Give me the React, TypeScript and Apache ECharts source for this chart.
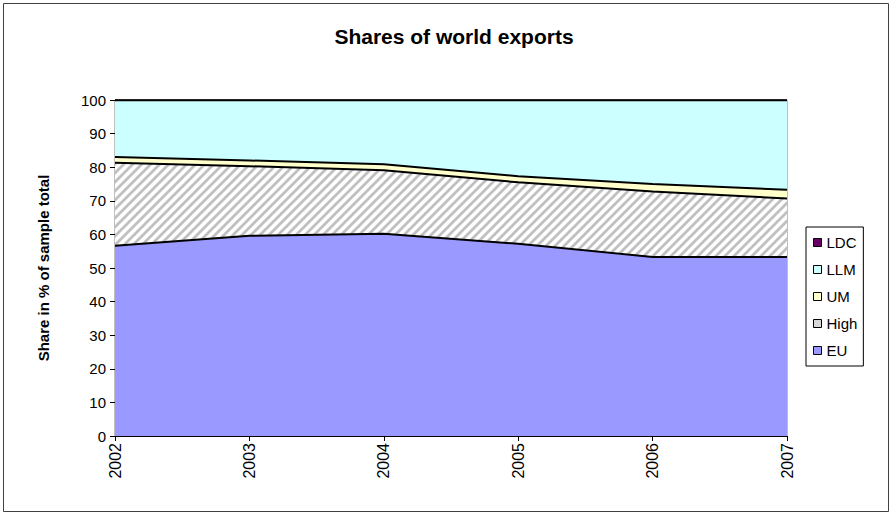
import React, { useEffect, useRef } from "react";
import * as echarts from "echarts";

const years = ["2002", "2003", "2004", "2005", "2006", "2007"];
const euValues = [56.6, 59.6, 60.2, 57.2, 53.3, 53.3];
const highValues = [24.7, 20.7, 18.9, 18.3, 19.5, 17.4];
const umValues = [1.7, 1.7, 1.8, 1.8, 2.2, 2.6];
const llmValues = [16.9, 17.9, 19.0, 22.6, 24.9, 26.6];
const ldcValues = [0.1, 0.1, 0.1, 0.1, 0.1, 0.1];
const legendOrder = ["LDC", "LLM", "UM", "High", "EU"];

function makeHatch(): HTMLCanvasElement {
  const c = document.createElement("canvas");
  c.width = 9;
  c.height = 9;
  const ctx = c.getContext("2d")!;
  ctx.fillStyle = "#ffffff";
  ctx.fillRect(0, 0, 9, 9);
  ctx.strokeStyle = "#c0c0c0";
  ctx.lineWidth = 2.8;
  ctx.beginPath();
  ctx.moveTo(-2, 11);
  ctx.lineTo(11, -2);
  ctx.moveTo(-2, 2);
  ctx.lineTo(2, -2);
  ctx.moveTo(7, 11);
  ctx.lineTo(11, 7);
  ctx.stroke();
  return c;
}

export default function App() {
  const ref = useRef<HTMLDivElement>(null);
  useEffect(() => {
    document.body.style.margin = "0";
    const chart = echarts.init(ref.current!, undefined, { renderer: "svg" });
    const hatch = { image: makeHatch(), repeat: "repeat" as const };
    const font = "Arial, 'Liberation Sans', sans-serif";
    const mk = (name: string, data: number[], color: any, z: number, lw: number) => ({
      name,
      type: "line",
      stack: "total",
      data,
      symbol: "none",
      lineStyle: { color: "#000", width: lw },
      areaStyle: { color, opacity: 1 },
      itemStyle: { color: typeof color === "string" ? color : "#d8d8d8", borderColor: "#000", borderWidth: 1 },
      z,
    });
    chart.setOption({
      animation: false,
      backgroundColor: "#ffffff",
      title: {
        text: "Shares of world exports",
        left: 449,
        textAlign: "center",
        top: 21,
        textStyle: { fontFamily: font, fontSize: 21, fontWeight: "bold", color: "#000" },
      },
      legend: {
        orient: "vertical",
        left: 806,
        top: 227,
        data: legendOrder.map((n) => ({ name: n, icon: "rect" })),
        itemWidth: 8,
        itemHeight: 8,
        itemGap: 12,
        padding: [8, 6, 8, 7],
        borderColor: "#000",
        borderWidth: 1,
        textStyle: { fontFamily: font, fontSize: 15, color: "#000", lineHeight: 14 },
        itemStyle: { borderColor: "#000", borderWidth: 1 },
      },
      grid: {
        left: 115,
        right: 105,
        top: 100,
        bottom: 79,
        show: true,
        borderColor: "#808080",
        borderWidth: 1,
      },
      xAxis: {
        type: "category",
        data: years,
        boundaryGap: false,
        axisLine: { lineStyle: { color: "#000", width: 1 } },
        axisTick: { show: true, length: 5, lineStyle: { color: "#000" } },
        axisLabel: { rotate: 90, margin: 7, fontFamily: font, fontSize: 16, color: "#000" },
        splitLine: { show: false },
      },
      yAxis: {
        type: "value",
        min: 0,
        max: 100,
        interval: 10,
        name: "Share in % of sample total",
        nameLocation: "middle",
        nameGap: 64,
        nameTextStyle: { fontFamily: font, fontSize: 15, fontWeight: "bold", color: "#000" },
        axisLine: { show: true, lineStyle: { color: "#000", width: 1 } },
        axisTick: { show: true, length: 5, lineStyle: { color: "#000" } },
        axisLabel: { margin: 9, fontFamily: font, fontSize: 15, color: "#000" },
        splitLine: { show: false },
      },
      series: [
        mk("EU", euValues, "#9999ff", 5, 2),
        mk("High", highValues, hatch, 4, 2),
        mk("UM", umValues, "#ffffcc", 3, 2),
        mk("LLM", llmValues, "#ccffff", 2, 2),
        mk("LDC", ldcValues, "#660066", 1, 1),
      ],
      graphic: [
        {
          type: "rect",
          shape: { x: 3.5, y: 3.5, width: 885, height: 508 },
          style: { fill: "none", stroke: "#404040", lineWidth: 1 },
          silent: true,
        },
      ],
    });
    return () => chart.dispose();
  }, []);
  return <div ref={ref} style={{ width: 892, height: 515 }} />;
}
